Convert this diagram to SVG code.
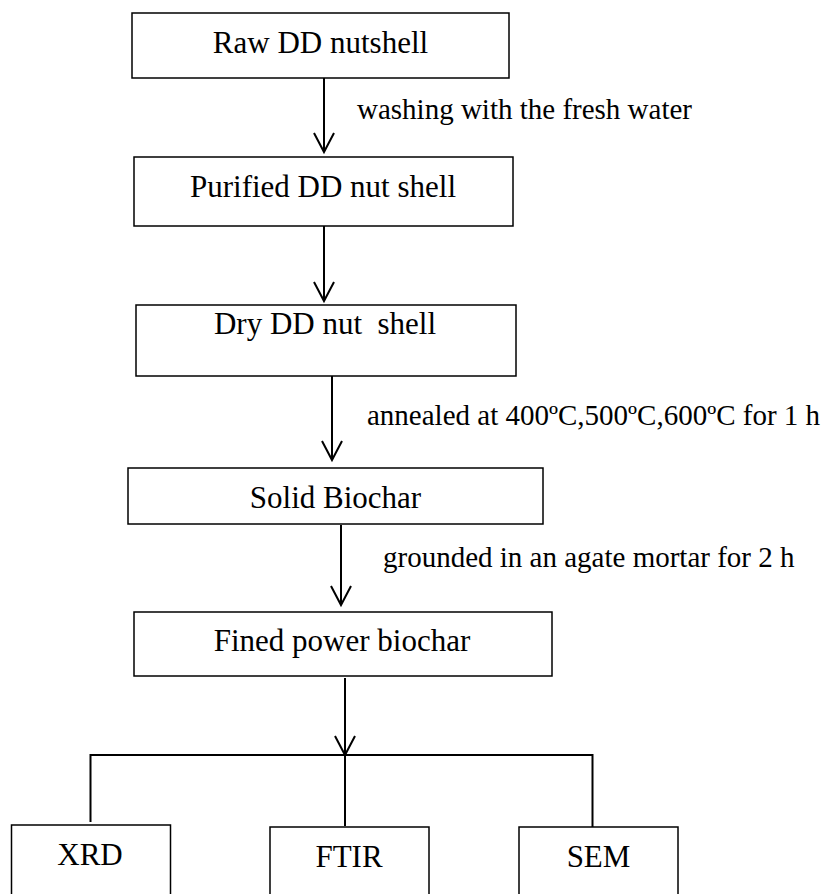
<svg xmlns="http://www.w3.org/2000/svg" width="827" height="894" viewBox="0 0 827 894">
<style>
.box{fill:#fff;stroke:#000;stroke-width:1.5}
.t{font-family:"Liberation Serif","Times New Roman",serif;font-size:31px;fill:#000;text-anchor:middle;white-space:pre}
.lbl{font-family:"Liberation Serif","Times New Roman",serif;font-size:29px;fill:#000}
.c{fill:none;stroke:#000;stroke-width:2}
</style>
<defs>
<marker id="arr" markerUnits="userSpaceOnUse" markerWidth="24" markerHeight="24" viewBox="0 0 24 24" refX="21" refY="12" orient="auto">
<path d="M2,2 L21,12 L2,22" fill="none" stroke="#000" stroke-width="2"/>
</marker>
</defs>
<rect width="827" height="894" fill="#fff"/>
<g id="connectors">
<line class="c" x1="324" y1="78" x2="324" y2="152" marker-end="url(#arr)"/>
<line class="c" x1="324" y1="226" x2="324" y2="301" marker-end="url(#arr)"/>
<line class="c" x1="332" y1="376" x2="332" y2="460" marker-end="url(#arr)"/>
<line class="c" x1="341" y1="525" x2="341" y2="605" marker-end="url(#arr)"/>
<line class="c" x1="345" y1="678" x2="345" y2="755" marker-end="url(#arr)"/>
<polyline class="c" points="90.5,822 90.5,755 592.5,755 592.5,827"/>
<line class="c" x1="345" y1="755" x2="345" y2="826"/>
<text class="lbl" x="357" y="119">washing with the fresh water</text>
<text class="lbl" x="367" y="425">annealed at 400ºC,500ºC,600ºC for 1 h</text>
<text class="lbl" x="383" y="567">grounded in an agate mortar for 2 h</text>
</g>
<g id="raw"><rect class="box" x="132" y="13" width="377" height="65"/><text class="t" x="320.5" y="53">Raw DD nutshell</text></g>
<g id="purified"><rect class="box" x="134" y="157" width="379" height="69"/><text class="t" x="323" y="197">Purified DD nut shell</text></g>
<g id="dry"><rect class="box" x="136" y="305" width="380" height="71"/><text class="t" x="325" y="334" xml:space="preserve">Dry DD nut  shell</text></g>
<g id="solid"><rect class="box" x="128" y="468" width="415" height="56"/><text class="t" x="335.5" y="508">Solid Biochar</text></g>
<g id="fined"><rect class="box" x="134" y="612" width="418" height="64"/><text class="t" x="342" y="651">Fined power biochar</text></g>
<g id="xrd"><rect class="box" x="11.5" y="825" width="159" height="80"/><text class="t" x="90" y="865">XRD</text></g>
<g id="ftir"><rect class="box" x="270" y="827" width="159" height="80"/><text class="t" x="349" y="867">FTIR</text></g>
<g id="sem"><rect class="box" x="519" y="827" width="159" height="80"/><text class="t" x="598.5" y="867">SEM</text></g>
</svg>
